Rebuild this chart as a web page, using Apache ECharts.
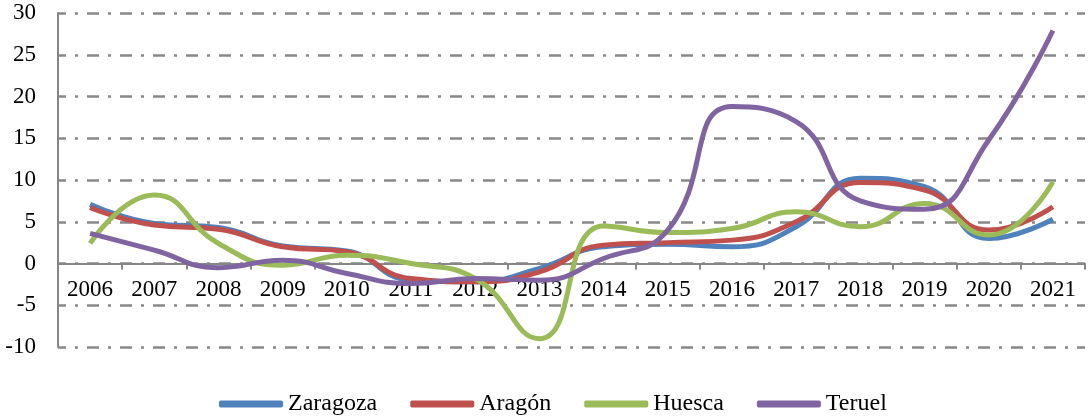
<!DOCTYPE html>
<html lang="es">
<head>
    <meta charset="UTF-8">
    <title>Variación anual</title>
    <script src="https://cdn.jsdelivr.net/npm/echarts@6/dist/echarts.min.js"></script>
    <style>
        html, body {margin: 0; padding: 0; background: #fff;}
        #chart {width: 1088px; height: 416px;}
    </style>
</head>
<body>
<div id="chart"></div>
<script>
    // datos
    const years = ['2006', '2007', '2008', '2009', '2010', '2011', '2012', '2013',
        '2014', '2015', '2016', '2017', '2018', '2019', '2020', '2021'];
    const zaragoza = [7.1, 4.8, 4.3, 2.1, 1.5, -2.0, -2.2, -0.6, 2.0, 2.3, 2.0, 4.4, 10.2, 9.2, 3.0, 5.3];
    const aragon = [6.7, 4.6, 4.1, 2.0, 1.4, -1.8, -2.2, -1.0, 2.2, 2.5, 2.8, 5.0, 9.7, 8.8, 4.0, 6.8];
    const huesca = [2.4, 8.2, 2.4, -0.2, 1.0, 0.0, -1.8, -9.0, 4.5, 3.7, 4.2, 6.2, 4.4, 7.2, 3.4, 9.8];
    const teruel = [3.6, 1.6, -0.5, 0.4, -1.2, -2.4, -1.8, -2.0, 0.6, 4.0, 18.8, 17.0, 7.5, 6.5, 14.8, 27.9];
    const yMin = -10, yMax = 30;

    const font = '"Liberation Serif", "Times New Roman", serif';
    const gray = '#868686';
    const gridTop = 13, gridBottom = 69, chartH = 416;
    // el eje X va sobre el 0, no abajo
    const plotH = chartH - gridTop - gridBottom;
    const zeroOffset = -plotH * (0 - yMin) / (yMax - yMin);

    function line(name, data, color) {
        return {
            name: name,
            type: 'line',
            data: data,
            smooth: true,
            symbol: 'none',
            color: color,
            lineStyle: {width: 5, color: color}
        };
    }

    let myChart = echarts.init(document.getElementById('chart'));

    let option = {
        animation: false,
        grid: {left: 58, right: 3, top: gridTop, bottom: gridBottom},
        legend: {
            left: 214,
            top: 387,
            icon: 'roundRect',
            itemWidth: 64,
            itemHeight: 7,
            itemGap: 33,
            textStyle: {fontFamily: font, fontSize: 24, color: '#000'},
            data: ['Zaragoza', 'Aragón', 'Huesca', 'Teruel']
        },
        xAxis: {
            type: 'category',
            data: years,
            boundaryGap: true,
            offset: zeroOffset,
            axisLine: {show: true, onZero: false, lineStyle: {color: gray, width: 2}},
            axisTick: {show: true, length: 6, lineStyle: {color: gray, width: 2}},
            axisLabel: {
                margin: 15,
                fontFamily: font,
                fontSize: 23,
                color: '#000'
            },
            splitLine: {show: false}
        },
        yAxis: {
            type: 'value',
            min: yMin,
            max: yMax,
            interval: 5,
            axisLine: {show: true, lineStyle: {color: gray, width: 2}},
            axisTick: {show: false},
            axisLabel: {
                margin: 22,
                fontFamily: font,
                fontSize: 23,
                color: '#000'
            },
            splitLine: {
                show: true,
                lineStyle: {
                    color: '#888888',
                    width: 2.5,
                    type: [12, 9, 3, 9],
                    dashOffset: 4
                }
            }
        },
        series: [
            line('Zaragoza', zaragoza, '#4F81BD'),
            line('Aragón', aragon, '#C0504D'),
            line('Huesca', huesca, '#9BBB59'),
            line('Teruel', teruel, '#8064A2')
        ]
    };

    myChart.setOption(option);
</script>
</body>
</html>
